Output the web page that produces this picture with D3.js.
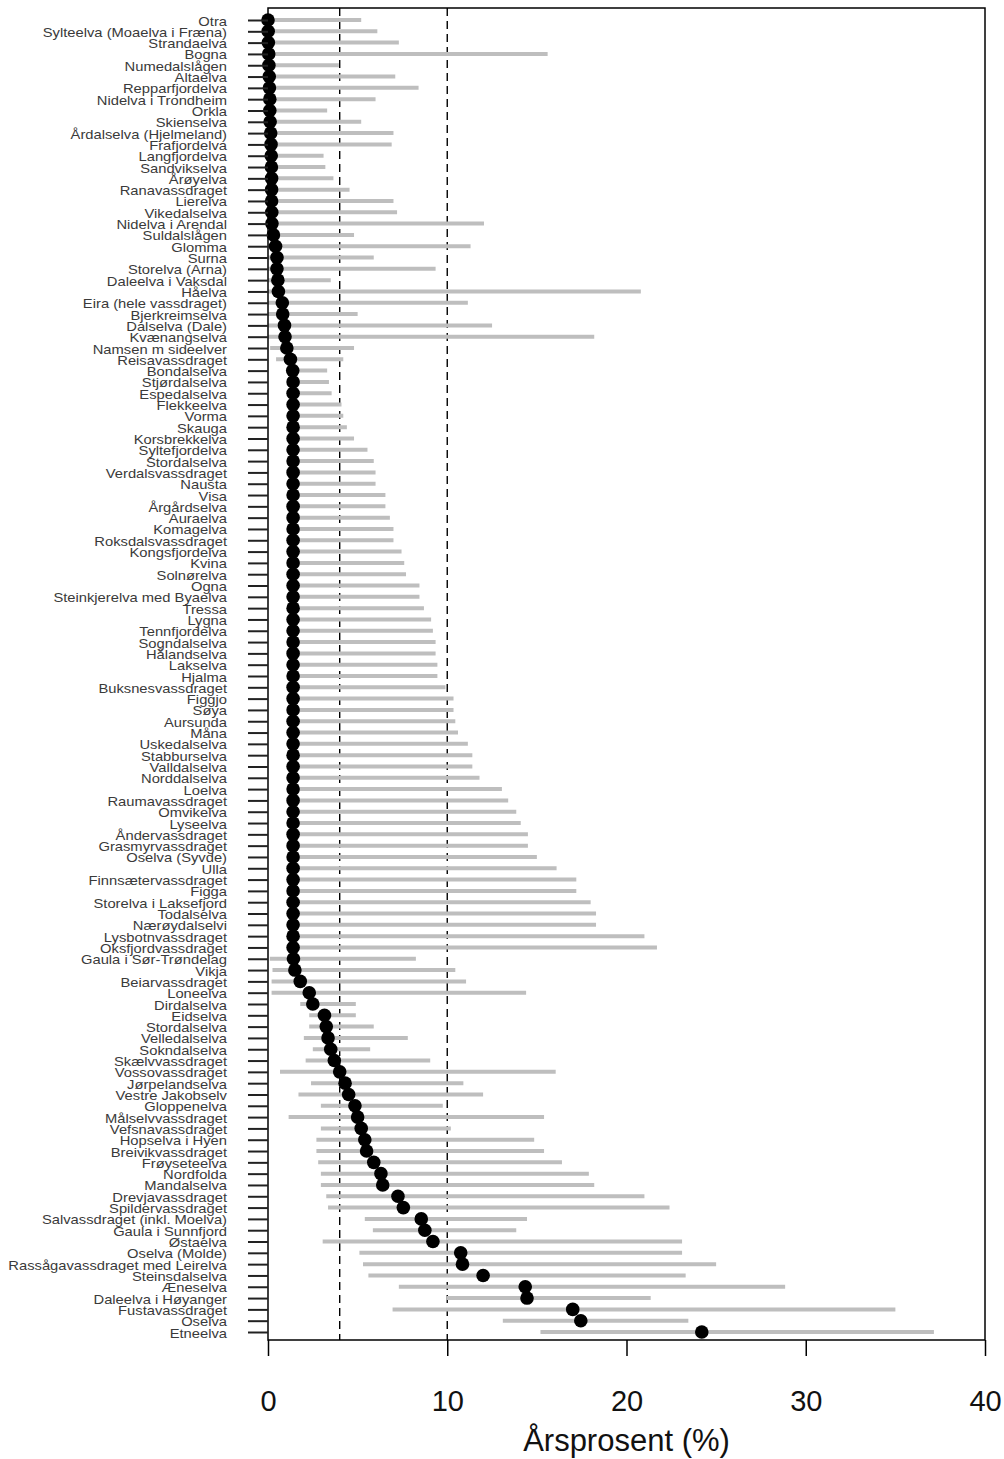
<!DOCTYPE html>
<html>
<head>
<meta charset="utf-8">
<script src="https://cdn.jsdelivr.net/npm/d3@7"></script>
<style>
  html, body { margin: 0; padding: 0; background: #fff; }
  svg { display: block; }
</style>
</head>
<body>
<svg id="chart" width="1004" height="1459"></svg>
<script>
const rivers = [
  "Otra","Sylteelva (Moaelva i Fræna)","Strandaelva","Bogna","Numedalslågen","Altaelva",
  "Repparfjordelva","Nidelva i Trondheim","Orkla","Skienselva","Årdalselva (Hjelmeland)","Frafjordelva",
  "Langfjordelva","Sandvikselva","Årøyelva","Ranavassdraget","Lierelva","Vikedalselva",
  "Nidelva i Arendal","Suldalslågen","Glomma","Surna","Storelva (Arna)","Daleelva i Vaksdal",
  "Håelva","Eira (hele vassdraget)","Bjerkreimselva","Dalselva (Dale)","Kvænangselva","Namsen m sideelver",
  "Reisavassdraget","Bondalselva","Stjørdalselva","Espedalselva","Flekkeelva","Vorma",
  "Skauga","Korsbrekkelva","Syltefjordelva","Stordalselva","Verdalsvassdraget","Nausta",
  "Visa","Årgårdselva","Auraelva","Komagelva","Roksdalsvassdraget","Kongsfjordelva",
  "Kvina","Solnørelva","Ogna","Steinkjerelva med Byaelva","Tressa","Lygna",
  "Tennfjordelva","Sogndalselva","Hålandselva","Lakselva","Hjalma","Buksnesvassdraget",
  "Figgjo","Søya","Aursunda","Måna","Uskedalselva","Stabburselva",
  "Valldalselva","Norddalselva","Loelva","Raumavassdraget","Omvikelva","Lyseelva",
  "Åndervassdraget","Grasmyrvassdraget","Oselva (Syvde)","Ulla","Finnsætervassdraget","Figga",
  "Storelva i Laksefjord","Todalselva","Nærøydalselvi","Lysbotnvassdraget","Oksfjordvassdraget","Gaula i Sør-Trøndelag",
  "Vikja","Beiarvassdraget","Loneelva","Dirdalselva","Eidselva","Stordalselva",
  "Velledalselva","Sokndalselva","Skælvvassdraget","Vossovassdraget","Jørpelandselva","Vestre Jakobselv",
  "Gloppenelva","Målselvvassdraget","Vefsnavassdraget","Hopselva i Hyen","Breivikvassdraget","Frøyseteelva",
  "Nordfolda","Mandalselva","Drevjavassdraget","Spildervassdraget","Salvassdraget (inkl. Moelva)","Gaula i Sunnfjord",
  "Østaelva","Oselva (Molde)","Rassågavassdraget med Leirelva","Steinsdalselva","Æneselva","Daleelva i Høyanger",
  "Fustavassdraget","Oselva","Etneelva"
];

const estimate = [
  0, 0.01, 0.02, 0.04, 0.05, 0.07,
  0.08, 0.1, 0.1, 0.12, 0.15, 0.17,
  0.18, 0.19, 0.2, 0.2, 0.2, 0.21,
  0.22, 0.3, 0.42, 0.5, 0.5, 0.55,
  0.58, 0.8, 0.82, 0.92, 0.95, 1.05,
  1.25, 1.38, 1.4, 1.4, 1.4, 1.4,
  1.4, 1.4, 1.4, 1.4, 1.4, 1.4,
  1.4, 1.4, 1.4, 1.4, 1.4, 1.4,
  1.4, 1.4, 1.4, 1.4, 1.4, 1.4,
  1.4, 1.4, 1.4, 1.4, 1.4, 1.4,
  1.4, 1.4, 1.4, 1.4, 1.4, 1.4,
  1.4, 1.4, 1.4, 1.4, 1.4, 1.4,
  1.4, 1.4, 1.4, 1.4, 1.4, 1.4,
  1.4, 1.4, 1.4, 1.4, 1.4, 1.42,
  1.5, 1.8, 2.3, 2.5, 3.15, 3.25,
  3.35, 3.5, 3.7, 4.0, 4.3, 4.5,
  4.85, 5.0, 5.2, 5.4, 5.5, 5.9,
  6.3, 6.4, 7.25, 7.55, 8.55, 8.75,
  9.2, 10.75, 10.85, 12.0, 14.35, 14.45,
  17.0, 17.45, 24.2
];

const lower = [
  0, 0, 0, 0, 0, 0,
  0, 0, 0, 0, 0, 0,
  0, 0, 0, 0, 0, 0,
  0, 0, 0, 0, 0, 0,
  0, 0, 0, 0, 0, 0.12,
  0.45, 1.2, 1.2, 1.2, 1.2, 1.2,
  1.2, 1.2, 1.2, 1.2, 1.2, 1.2,
  1.2, 1.2, 1.2, 1.2, 1.2, 1.2,
  1.2, 1.2, 1.2, 1.2, 1.2, 1.2,
  1.2, 1.2, 1.2, 1.2, 1.2, 1.2,
  1.2, 1.2, 1.2, 1.2, 1.2, 1.2,
  1.2, 1.2, 1.2, 1.2, 1.2, 1.2,
  1.2, 1.2, 1.2, 1.2, 1.2, 1.2,
  1.2, 1.2, 1.2, 1.2, 1.2, 0.1,
  0.25, 0.2, 0.2, 1.8, 2.3, 2.3,
  2.0, 2.5, 2.1, 0.67, 2.4, 1.7,
  2.95, 1.15, 2.95, 2.7, 2.7, 2.8,
  2.95, 2.95, 3.25, 3.35, 5.4, 5.85,
  3.05, 5.1, 5.3, 5.6, 7.3, 9.95,
  6.95, 13.1, 15.2
];

const upper = [
  5.2, 6.1, 7.3, 15.6, 3.95, 7.1,
  8.4, 6.0, 3.3, 5.2, 7.0, 6.9,
  3.1, 3.2, 3.65, 4.55, 7.0, 7.2,
  12.05, 4.8, 11.3, 5.9, 9.35, 3.5,
  20.8, 11.15, 5.0, 12.5, 18.2, 4.8,
  4.2, 3.3, 3.4, 3.55, 4.1, 4.2,
  4.4, 4.8, 5.55, 5.9, 6.0, 6.0,
  6.55, 6.55, 6.8, 7.0, 7.0, 7.45,
  7.6, 7.7, 8.45, 8.45, 8.7, 9.1,
  9.2, 9.35, 9.35, 9.45, 9.45, 9.9,
  10.35, 10.35, 10.45, 10.6, 11.15, 11.4,
  11.4, 11.8, 13.05, 13.4, 13.85, 14.1,
  14.5, 14.5, 15.0, 16.1, 17.2, 17.2,
  18.0, 18.3, 18.3, 21.0, 21.7, 8.25,
  10.45, 11.05, 14.4, 4.9, 4.9, 5.9,
  7.8, 5.7, 9.05, 16.05, 10.9, 12.0,
  9.75, 15.4, 10.2, 14.85, 15.4, 16.4,
  17.9, 18.2, 21.0, 22.4, 14.45, 13.85,
  23.1, 23.1, 25.0, 23.3, 28.85, 21.35,
  35.0, 23.45, 37.15
];

const xTicks = [0, 10, 20, 30, 40];
const refLines = [4, 10];
const xTitle = "Årsprosent (%)";

const svg = d3.select("#chart");
const plotL = 268, plotR = 985, plotT = 8, plotB = 1340;

const x = d3.scaleLinear().domain([0, 40]).range([plotL, plotR]);
const idx = d3.range(rivers.length);
const y = d3.scalePoint().domain(idx).range([20, 1332]);

// reference dashed lines
svg.append("g").selectAll("line").data(refLines).join("line")
  .attr("x1", d => x(d)).attr("x2", d => x(d))
  .attr("y1", plotT).attr("y2", plotB)
  .attr("stroke", "#000").attr("stroke-width", 1.4)
  .attr("stroke-dasharray", "8,5");

// interval bars
svg.append("g").selectAll("line").data(idx).join("line")
  .attr("x1", i => x(lower[i])).attr("x2", i => x(upper[i]))
  .attr("y1", i => y(i)).attr("y2", i => y(i))
  .attr("stroke", "#bebebe").attr("stroke-width", 4);

// frame
svg.append("rect")
  .attr("x", plotL).attr("y", plotT)
  .attr("width", plotR - plotL).attr("height", plotB - plotT)
  .attr("fill", "none").attr("stroke", "#000").attr("stroke-width", 1.5);

// points
svg.append("g").selectAll("circle").data(idx).join("circle")
  .attr("cx", i => x(estimate[i])).attr("cy", i => y(i))
  .attr("r", 6.8).attr("fill", "#000");

// y axis
const labelStretch = 1.18;
const yAxis = d3.axisLeft(y).tickSize(20).tickPadding(21)
  .tickFormat(i => rivers[i]);
const gy = svg.append("g").attr("transform", `translate(${plotL},0)`).call(yAxis);
gy.select(".domain").remove();
gy.selectAll(".tick line").attr("stroke", "#222").attr("stroke-width", 2);
gy.selectAll(".tick text")
  .attr("font-family", "'Liberation Sans', Arial, sans-serif")
  .attr("font-size", 12.5)
  .attr("fill", "#3a3a3a")
  .attr("dy", "0.4em")
  .attr("x", -41 / labelStretch)
  .attr("transform", `scale(${labelStretch},1)`);

// x axis
const xAxis = d3.axisBottom(x).tickValues(xTicks).tickSize(16).tickPadding(34)
  .tickFormat(d3.format("d"));
const gx = svg.append("g").attr("transform", `translate(0,${plotB})`).call(xAxis);
gx.select(".domain").remove();
gx.selectAll(".tick line").attr("stroke", "#000").attr("stroke-width", 1.5);
gx.selectAll(".tick text")
  .attr("font-family", "'Liberation Sans', Arial, sans-serif")
  .attr("font-size", 29)
  .attr("fill", "#111");

svg.append("text")
  .attr("x", (plotL + plotR) / 2).attr("y", 1451)
  .attr("text-anchor", "middle")
  .attr("font-family", "'Liberation Sans', Arial, sans-serif")
  .attr("font-size", 31)
  .attr("fill", "#111")
  .text(xTitle);
</script>
</body>
</html>
